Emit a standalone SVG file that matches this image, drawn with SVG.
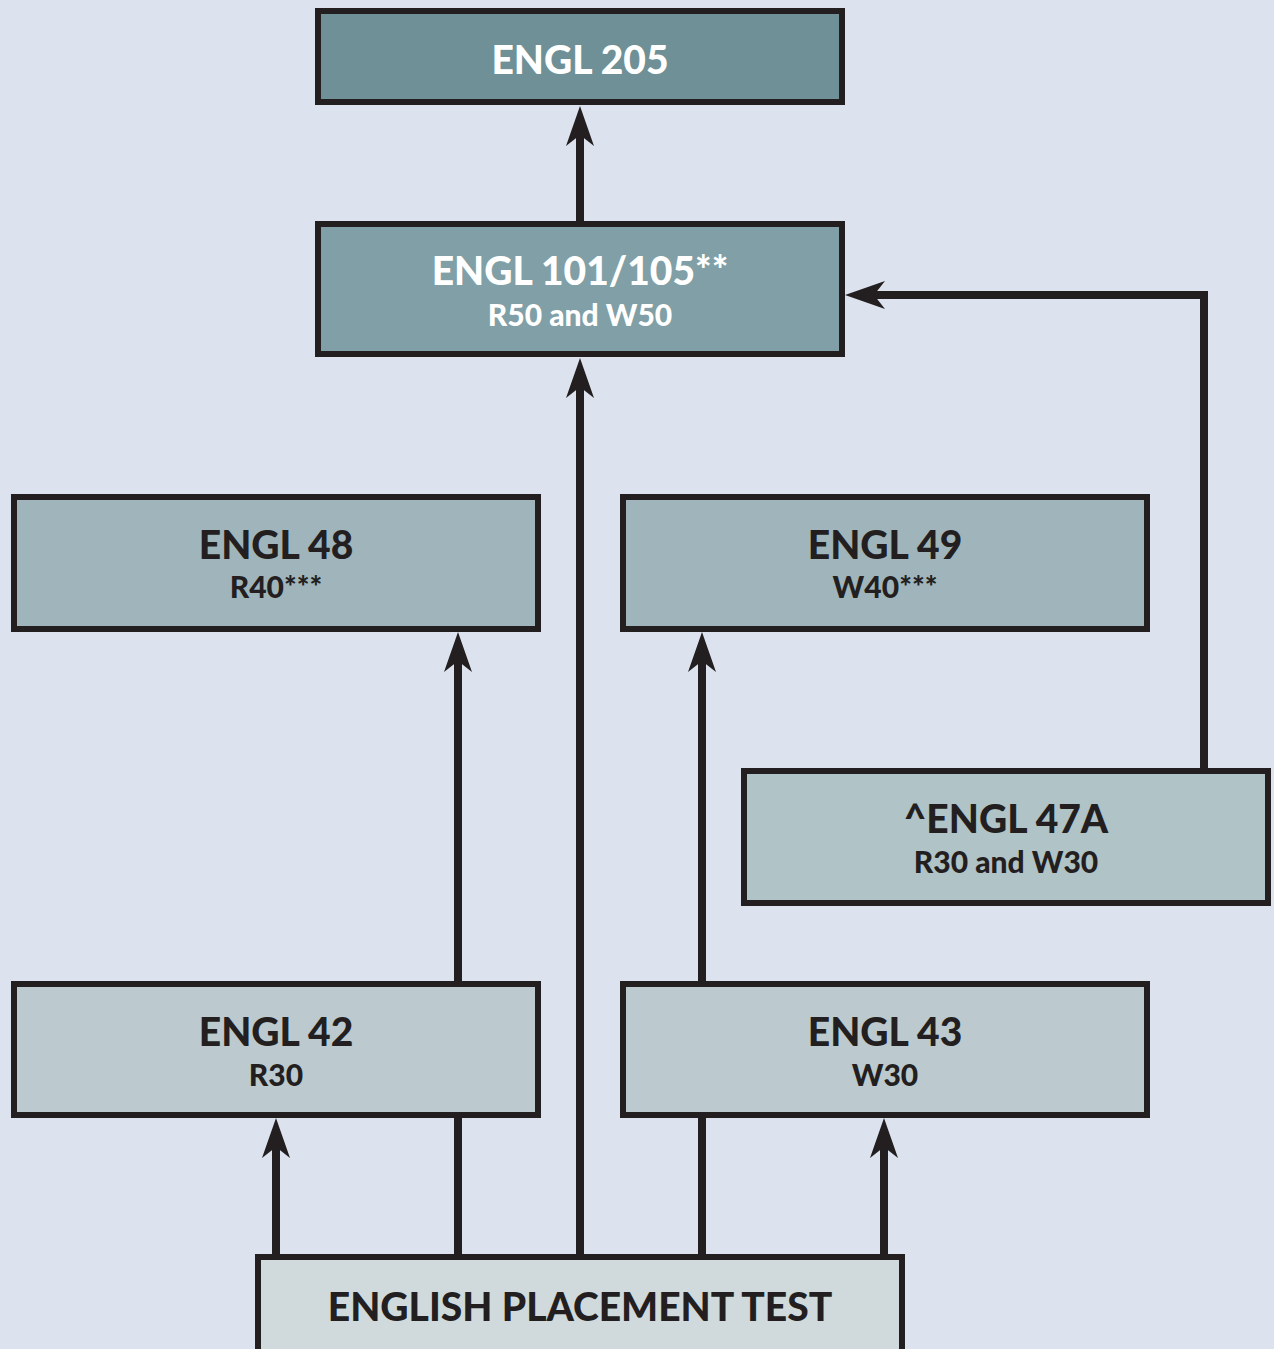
<svg xmlns="http://www.w3.org/2000/svg" width="1274" height="1349" viewBox="0 0 1274 1349">
<defs>
<style>
.box{stroke:#231f20;stroke-width:6}
.t{font-family:Lato,"Open Sans","Liberation Sans",sans-serif;font-weight:900;text-anchor:middle;fill:#231f20}
.w{fill:#ffffff}
.h{font-size:39px}
.s{font-size:30px}
.c{fill:none;stroke:#231f20;stroke-width:8;stroke-linejoin:miter}
</style>
<marker id="ah" viewBox="0 0 40 28" refX="20" refY="14" markerWidth="40" markerHeight="28" markerUnits="userSpaceOnUse" orient="auto">
<path d="M0,0 L40,14 L0,28 L11,14 Z" fill="#231f20"/>
</marker>
</defs>
<rect width="1274" height="1349" fill="#dce3ee"/>
<g id="connectors">
<line class="c" x1="580" y1="224" x2="580" y2="126" marker-end="url(#ah)"/>
<line class="c" x1="580" y1="1257" x2="580" y2="378" marker-end="url(#ah)"/>
<line class="c" x1="458" y1="984" x2="458" y2="652" marker-end="url(#ah)"/>
<line class="c" x1="702" y1="984" x2="702" y2="652" marker-end="url(#ah)"/>
<polyline class="c" points="1204,771 1204,295 865,295" marker-end="url(#ah)"/>
<line class="c" x1="276" y1="1257" x2="276" y2="1138" marker-end="url(#ah)"/>
<line class="c" x1="458" y1="1257" x2="458" y2="1115"/>
<line class="c" x1="702" y1="1257" x2="702" y2="1115"/>
<line class="c" x1="884" y1="1257" x2="884" y2="1138" marker-end="url(#ah)"/>
</g>
<g id="engl205">
<rect class="box" x="318" y="11" width="524" height="91" fill="#6e9096"/>
<text class="t w h" x="580" y="74">ENGL 205</text>
</g>
<g id="engl101">
<rect class="box" x="318" y="224" width="524" height="130" fill="#809fa6"/>
<text class="t w h" x="580" y="285">ENGL 101/105**</text>
<text class="t w s" x="580" y="326">R50 and W50</text>
</g>
<g id="engl48">
<rect class="box" x="14" y="497" width="524" height="132" fill="#a0b5bb"/>
<text class="t h" x="276" y="559">ENGL 48</text>
<text class="t s" x="276" y="598">R40***</text>
</g>
<g id="engl49">
<rect class="box" x="623" y="497" width="524" height="132" fill="#a0b5bb"/>
<text class="t h" x="885" y="559">ENGL 49</text>
<text class="t s" x="885" y="598">W40***</text>
</g>
<g id="engl47a">
<rect class="box" x="744" y="771" width="524" height="132" fill="#b0c3c7"/>
<text class="t h" x="1006" y="833">^ENGL 47A</text>
<text class="t s" x="1006" y="873">R30 and W30</text>
</g>
<g id="engl42">
<rect class="box" x="14" y="984" width="524" height="131" fill="#bccacf"/>
<text class="t h" x="276" y="1046">ENGL 42</text>
<text class="t s" x="276" y="1086">R30</text>
</g>
<g id="engl43">
<rect class="box" x="623" y="984" width="524" height="131" fill="#bccacf"/>
<text class="t h" x="885" y="1046">ENGL 43</text>
<text class="t s" x="885" y="1086">W30</text>
</g>
<g id="placement">
<rect class="box" x="258" y="1257" width="644" height="100" fill="#d0dadd"/>
<text class="t h" x="580" y="1321">ENGLISH PLACEMENT TEST</text>
</g>
</svg>
